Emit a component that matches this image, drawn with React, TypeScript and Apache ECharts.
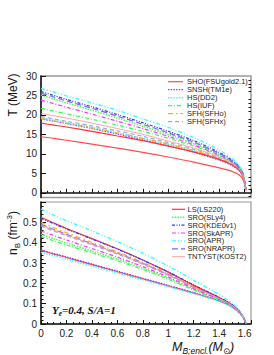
import React, { useEffect, useRef } from "react";
import * as echarts from "echarts";

// Enclosed baryon mass grid (M_sun)
const massGrid = [0, 0.1, 0.2, 0.4, 0.6, 0.8, 1.0, 1.2, 1.4, 1.5, 1.56, 1.59, 1.61];

// Temperature (MeV)
const T_SHO = [14.4, 14.0, 13.5, 12.5, 11.5, 10.4, 9.2, 7.9, 6.4, 5.5, 4.5, 3.2, 0.6];
const T_TM1e = [19.0, 18.4, 17.8, 16.5, 15.1, 13.6, 12.1, 10.4, 8.4, 7.0, 5.6, 3.9, 0.8];
const T_DD2 = [19.3, 18.7, 18.1, 16.8, 15.4, 14.0, 12.5, 10.8, 8.7, 7.2, 5.7, 4.0, 0.8];
const T_IUF = [21.7, 21.0, 20.3, 18.9, 17.4, 15.8, 14.0, 12.0, 9.5, 7.8, 6.1, 4.3, 0.8];
const T_SFHo = [19.1, 18.5, 17.9, 16.7, 15.4, 14.0, 12.5, 10.9, 8.8, 7.3, 5.8, 4.0, 0.8];
const T_SFHx = [19.6, 19.0, 18.4, 17.2, 15.9, 14.5, 12.9, 11.2, 9.0, 7.5, 5.9, 4.1, 0.8];
const T_LS220 = [17.9, 17.4, 16.9, 15.8, 14.6, 13.4, 12.0, 10.5, 8.6, 7.2, 5.7, 4.0, 0.8];
const T_SLy4 = [25.1, 24.1, 23.1, 21.2, 19.2, 17.1, 15.0, 12.7, 9.9, 8.0, 6.3, 4.4, 0.8];
const T_KDE0v1 = [26.0, 25.0, 24.0, 22.1, 20.1, 18.0, 15.8, 13.4, 10.4, 8.4, 6.6, 4.6, 0.8];
const T_SkAPR = [23.8, 22.9, 22.0, 20.2, 18.4, 16.5, 14.5, 12.3, 9.7, 7.9, 6.2, 4.3, 0.8];
const T_APR = [26.8, 25.9, 24.9, 23.1, 21.2, 19.0, 16.8, 14.2, 11.0, 8.8, 6.9, 4.8, 0.8];
const T_NRAPR = [25.6, 24.6, 23.6, 21.7, 19.7, 17.6, 15.4, 13.0, 10.1, 8.2, 6.4, 4.5, 0.8];
const T_KOST2 = [20.4, 19.8, 19.2, 17.9, 16.5, 15.0, 13.3, 11.5, 9.2, 7.6, 6.0, 4.2, 0.8];

// Baryon number density (fm^-3)
const N_SHO = [0.362, 0.344, 0.327, 0.292, 0.257, 0.222, 0.187, 0.152, 0.113, 0.084, 0.054, 0.03, 0.002];
const N_TM1e = [0.365, 0.347, 0.33, 0.295, 0.26, 0.225, 0.19, 0.155, 0.115, 0.085, 0.055, 0.03, 0.002];
const N_DD2 = [0.353, 0.336, 0.319, 0.285, 0.251, 0.217, 0.183, 0.149, 0.111, 0.083, 0.054, 0.03, 0.002];
const N_IUF = [0.43, 0.409, 0.389, 0.35, 0.311, 0.268, 0.22, 0.167, 0.117, 0.087, 0.057, 0.031, 0.002];
const N_SFHo = [0.5, 0.474, 0.449, 0.402, 0.355, 0.303, 0.247, 0.185, 0.127, 0.093, 0.06, 0.033, 0.002];
const N_SFHx = [0.482, 0.457, 0.434, 0.389, 0.344, 0.294, 0.24, 0.18, 0.124, 0.091, 0.059, 0.033, 0.002];
const N_LS220 = [0.525, 0.497, 0.47, 0.42, 0.37, 0.315, 0.255, 0.19, 0.13, 0.095, 0.061, 0.034, 0.002];
const N_SLy4 = [0.442, 0.42, 0.399, 0.359, 0.319, 0.274, 0.225, 0.17, 0.119, 0.088, 0.057, 0.032, 0.002];
const N_KDE0v1 = [0.52, 0.493, 0.467, 0.418, 0.368, 0.314, 0.256, 0.192, 0.131, 0.096, 0.062, 0.034, 0.002];
const N_SkAPR = [0.458, 0.435, 0.413, 0.371, 0.329, 0.282, 0.231, 0.174, 0.121, 0.089, 0.058, 0.032, 0.002];
const N_APR = [0.565, 0.535, 0.508, 0.458, 0.405, 0.348, 0.285, 0.215, 0.145, 0.103, 0.066, 0.036, 0.002];
const N_NRAPR = [0.49, 0.465, 0.441, 0.395, 0.349, 0.298, 0.243, 0.182, 0.126, 0.092, 0.06, 0.033, 0.002];
const N_KOST2 = [0.487, 0.462, 0.438, 0.393, 0.347, 0.297, 0.242, 0.182, 0.125, 0.092, 0.059, 0.033, 0.002];

const topLegend = ["SHO(FSUgold2.1)", "SNSH(TM1e)", "HS(DD2)", "HS(IUF)", "SFH(SFHo)", "SFH(SFHx)"];
const bottomLegend = ["LS(LS220)", "SRO(SLy4)", "SRO(KDE0v1)", "SRO(SkAPR)", "SRO(APR)", "SRO(NRAPR)", "TNTYST(KOST2)"];

const tTicks = [0, 5, 10, 15, 20, 25, 30];
const nTicks = [0, 0.1, 0.2, 0.3, 0.4, 0.5];
const massTicks = [0, 0.2, 0.4, 0.6, 0.8, 1, 1.2, 1.4, 1.6];

type Model = { name: string; T: number[]; n: number[]; color: string; dash: any; width: number };

const models: Model[] = [
  { name: "SHO(FSUgold2.1)", T: T_SHO, n: N_SHO, color: "#ff4d4d", dash: "solid", width: 1.2 },
  { name: "SNSH(TM1e)", T: T_TM1e, n: N_TM1e, color: "#9933ff", dash: [1.5, 1.2], width: 1.2 },
  { name: "HS(DD2)", T: T_DD2, n: N_DD2, color: "#33ffff", dash: [1.5, 1.2], width: 1.4 },
  { name: "HS(IUF)", T: T_IUF, n: N_IUF, color: "#33ff55", dash: [4, 2, 1, 2], width: 1.2 },
  { name: "SFH(SFHo)", T: T_SFHo, n: N_SFHo, color: "#ffaa22", dash: [5, 3, 1.5, 3], width: 1.2 },
  { name: "SFH(SFHx)", T: T_SFHx, n: N_SFHx, color: "#99aadd", dash: [4, 3], width: 1.2 },
  { name: "LS(LS220)", T: T_LS220, n: N_LS220, color: "#ff3333", dash: "solid", width: 1.2 },
  { name: "SRO(SLy4)", T: T_SLy4, n: N_SLy4, color: "#44ff44", dash: [1.5, 1.2], width: 1.4 },
  { name: "SRO(KDE0v1)", T: T_KDE0v1, n: N_KDE0v1, color: "#3333ff", dash: [3, 1.5, 1, 1.5, 1, 1.5], width: 1.2 },
  { name: "SRO(SkAPR)", T: T_SkAPR, n: N_SkAPR, color: "#ff33ff", dash: [4, 2, 1, 2], width: 1.2 },
  { name: "SRO(APR)", T: T_APR, n: N_APR, color: "#33ffff", dash: [4, 2, 1, 2, 1, 2], width: 1.4 },
  { name: "SRO(NRAPR)", T: T_NRAPR, n: N_NRAPR, color: "#7766ee", dash: [6, 3], width: 1.2 },
  { name: "TNTYST(KOST2)", T: T_KOST2, n: N_KOST2, color: "#ff9999", dash: "solid", width: 0.9 },
];

const FONT = "'Liberation Sans', 'DejaVu Sans', Arial, sans-serif";
const SERIF = "'Liberation Serif', 'DejaVu Serif', serif";

function minorOf(major: number[], step: number, lo: number, hi: number): number[] {
  const out: number[] = [];
  const n = Math.round((hi - lo) / step);
  for (let i = 0; i <= n; i++) {
    const v = +(lo + i * step).toFixed(4);
    if (!major.some((m) => Math.abs(m - v) < 1e-6)) out.push(v);
  }
  return out;
}

function legendGraphics(names: string[], x0: number, x1: number, tx: number, y0: number, dy: number): any[] {
  const out: any[] = [];
  names.forEach((nm, i) => {
    const m = models.find((mm) => mm.name === nm)!;
    const y = y0 + i * dy;
    out.push({
      type: "line", z: 10,
      shape: { x1: x0, y1: y, x2: x1, y2: y },
      style: { stroke: m.color, lineWidth: m.width, lineDash: m.dash === "solid" ? null : m.dash },
    });
    out.push({
      type: "text", x: tx, y, z: 10,
      style: {
        text: nm, fontSize: 7.5, fontFamily: FONT, fill: "#222",
        align: "left", verticalAlign: "middle",
      },
    });
  });
  return out;
}

export default function App() {
  const ref = useRef<HTMLDivElement>(null);
  useEffect(() => {
    document.body.style.margin = "0";
    if (!ref.current) return;
    const chart = echarts.init(ref.current, undefined, { renderer: "svg" });

    const axisLine = { show: true, lineStyle: { color: "#111", width: 1.5 } };
    const labelStyle = { fontSize: 10, fontFamily: FONT, color: "#222" };

    const series: any[] = [];
    models.forEach((m) => {
      [0, 1].forEach((g) => {
        series.push({
          name: m.name,
          type: "line",
          xAxisIndex: g,
          yAxisIndex: g === 0 ? 0 : 2,
          smooth: 0.3,
          symbol: "none",
          showSymbol: false,
          data: massGrid.map((x, i) => [x, g === 0 ? m.T[i] : m.n[i]]),
          lineStyle: { color: m.color, width: m.width, type: m.dash },
          itemStyle: { color: m.color },
          z: 3,
        });
      });
    });

    const tMinor = minorOf(tTicks, 1, -1, 30);

    const option: any = {
      animation: false,
      backgroundColor: "#fff",
      grid: [
        { left: 41, top: 76, width: 210, height: 121.5, show: true, borderColor: "#999", borderWidth: 1.5, backgroundColor: "transparent" },
        { left: 41, top: 202, width: 210, height: 122, show: true, borderColor: "#999", borderWidth: 1.2, backgroundColor: "transparent" },
      ],
      xAxis: [
        {
          gridIndex: 0, type: "value", min: 0, max: 1.65, interval: 0.2,
          axisLine, splitLine: { show: false },
          axisTick: { show: true, inside: true, length: 4, lineStyle: { color: "#111" } },
          minorTick: { show: true, splitNumber: 4, length: 2, lineStyle: { color: "#111" } },
          axisLabel: { show: false },
        },
        {
          gridIndex: 1, type: "value", min: 0, max: 1.65, interval: 0.2,
          axisLine, splitLine: { show: false },
          axisTick: { show: true, inside: true, length: 4, lineStyle: { color: "#111" } },
          minorTick: { show: true, splitNumber: 4, length: 2, lineStyle: { color: "#111" } },
          axisLabel: {
            ...labelStyle, margin: 4, showMaxLabel: false,
            formatter: (v: number) => (massTicks.some((t) => Math.abs(t - v) < 1e-6) ? String(+v.toFixed(1)) : ""),
          },
        },
      ],
      yAxis: [
        {
          gridIndex: 0, type: "value", min: -1.2, max: 30,
          axisLine, splitLine: { show: false },
          axisTick: { show: true, inside: true, length: 5, customValues: tTicks, lineStyle: { color: "#111" } },
          axisLabel: { ...labelStyle, margin: 4, customValues: tTicks, formatter: (v: number) => String(v) },
        },
        {
          gridIndex: 0, type: "value", min: -1.2, max: 30,
          axisLine: { show: false }, splitLine: { show: false },
          axisTick: { show: true, inside: true, length: 2.5, customValues: tMinor, lineStyle: { color: "#111" } },
          axisLabel: { show: false, customValues: tMinor },
        },
        {
          gridIndex: 1, type: "value", min: 0, max: 0.6, interval: 0.1,
          axisLine, splitLine: { show: false },
          axisTick: { show: true, inside: true, length: 5, lineStyle: { color: "#111" } },
          minorTick: { show: true, splitNumber: 5, length: 2.5, lineStyle: { color: "#111" } },
          axisLabel: {
            ...labelStyle, margin: 4,
            formatter: (v: number) => (nTicks.some((t) => Math.abs(t - v) < 1e-6) ? String(+v.toFixed(1)) : ""),
          },
        },
      ],
      graphic: [
        ...legendGraphics(topLegend, 168, 183, 187, 81.7, 8),
        ...legendGraphics(bottomLegend, 172, 185, 187.5, 209.3, 7.9),
        {
          type: "text", x: 13, y: 95, rotation: Math.PI / 2,
          style: { text: "T (MeV)", fontSize: 12, fontFamily: FONT, fill: "#111", align: "center", verticalAlign: "middle" },
        },
        {
          type: "text", x: 13, y: 233, rotation: Math.PI / 2,
          style: {
            text: "{a|n}{s|B}{a| (fm}{p|-3}{a|)}",
            align: "center", verticalAlign: "middle", fill: "#111",
            rich: {
              a: { fontSize: 12, fontFamily: FONT, fill: "#111", lineHeight: 16 },
              s: { fontSize: 8, fontFamily: FONT, fill: "#111", lineHeight: 16, verticalAlign: "bottom" },
              p: { fontSize: 8, fontFamily: FONT, fill: "#111", lineHeight: 16, verticalAlign: "top" },
            },
          },
        },
        {
          type: "text", x: 172, y: 347,
          style: {
            text: "{a|M}{s|B;encl.}{a|(M}{s|⊙}{a|)}",
            align: "left", verticalAlign: "middle", fill: "#111",
            rich: {
              a: { fontSize: 12.5, fontFamily: FONT, fontStyle: "italic", fill: "#111", lineHeight: 17 },
              s: { fontSize: 8.5, fontFamily: FONT, fontStyle: "italic", fill: "#111", lineHeight: 17, verticalAlign: "bottom" },
            },
          },
        },
        {
          type: "text", x: 52, y: 310,
          style: {
            text: "{a|Y}{s|e}{a|=0.4, S/A=1}",
            align: "left", verticalAlign: "middle", fill: "#111",
            rich: {
              a: { fontSize: 11, fontFamily: SERIF, fontStyle: "italic", fontWeight: "bold", fill: "#111", lineHeight: 14 },
              s: { fontSize: 7.5, fontFamily: SERIF, fontStyle: "italic", fontWeight: "bold", fill: "#111", lineHeight: 14, verticalAlign: "bottom" },
            },
          },
        },
      ],
      series,
    };
    chart.setOption(option);
    return () => chart.dispose();
  }, []);
  return <div ref={ref} style={{ position: "fixed", left: 0, top: 0, width: 274, height: 355, background: "#fff" }} />;
}
